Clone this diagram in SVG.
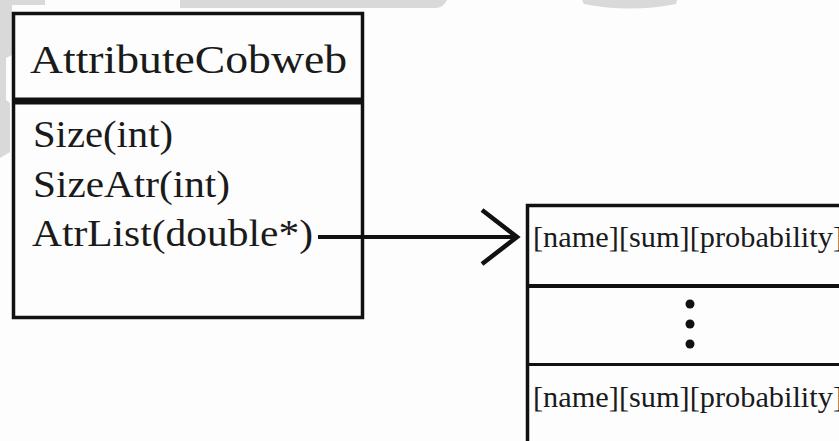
<svg xmlns="http://www.w3.org/2000/svg" width="839" height="441" viewBox="0 0 839 441">
  <style>
    .box { fill: none; stroke: #111; stroke-width: 3.5; }
    .div { stroke: #111; }
    .t { font-family: "Liberation Serif", "Times New Roman", serif; fill: #1a1a1a; }
    .wm { fill: #d9d9d9; }
    .conn { stroke: #111; stroke-width: 4; fill: none; }
  </style>
  <defs>
    <marker id="openArrow" markerUnits="userSpaceOnUse" markerWidth="44" markerHeight="64" viewBox="0 0 44 64" refX="39" refY="32" orient="auto">
      <path d="M4,5 L39,32 L4,59" fill="none" stroke="#111" stroke-width="4.5" stroke-linejoin="miter"/>
    </marker>
  </defs>
  <rect width="839" height="441" fill="#fdfdfd"/>
  <g id="watermark">
    <path class="wm" d="M0,0 H45 V5 H12 V55 L6,58 V100 L10,103 V152 L0,158 Z"/>
    <path class="wm" d="M180,0 H447 Q444,7 436,8 H180 Z"/>
    <path class="wm" d="M582,0 H677 L676,4 Q630,13 584,4 Z"/>
  </g>
  <g id="AttributeCobweb">
    <rect class="box" x="13.5" y="13.5" width="349" height="304"/>
    <line class="div" x1="13.5" y1="101" x2="362.5" y2="101" stroke-width="7"/>
    <text class="t" x="30" y="73" font-size="40" textLength="317" lengthAdjust="spacingAndGlyphs">AttributeCobweb</text>
    <text class="t" x="33" y="147" font-size="38" textLength="140" lengthAdjust="spacingAndGlyphs">Size(int)</text>
    <text class="t" x="33" y="197" font-size="38" textLength="197" lengthAdjust="spacingAndGlyphs">SizeAtr(int)</text>
    <text class="t" x="32" y="246" font-size="38" textLength="281" lengthAdjust="spacingAndGlyphs">AtrList(double*)</text>
  </g>
  <g id="AtrListArray">
    <rect class="box" x="527.5" y="205.5" width="330" height="260" stroke-width="3"/>
    <line class="div" x1="527.5" y1="286" x2="845" y2="286" stroke-width="4"/>
    <line class="div" x1="527.5" y1="364.5" x2="845" y2="364.5" stroke-width="3"/>
    <text class="t" x="533" y="247" font-size="30" textLength="310" lengthAdjust="spacingAndGlyphs">[name][sum][probability]</text>
    <circle cx="690" cy="304" r="4.5" fill="#111"/>
    <circle cx="690" cy="324" r="4.5" fill="#111"/>
    <circle cx="690" cy="344" r="4.5" fill="#111"/>
    <text class="t" x="533" y="407" font-size="30" textLength="310" lengthAdjust="spacingAndGlyphs">[name][sum][probability]</text>
  </g>
  <g id="connectors">
    <line class="conn" x1="318" y1="237" x2="517" y2="237" marker-end="url(#openArrow)"/>
  </g>
</svg>
